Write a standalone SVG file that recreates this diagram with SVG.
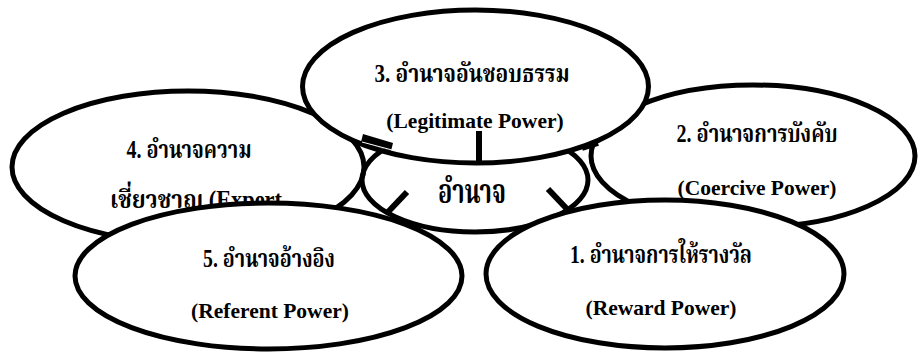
<svg xmlns="http://www.w3.org/2000/svg" width="918" height="352" viewBox="0 0 918 352">
<style>
.e{fill:#fff;stroke:#000;stroke-width:5}
.n{fill:none;stroke:#000;stroke-width:5}
.th{font-family:"Liberation Serif","Noto Serif Thai","Noto Sans Thai","Norasi","Loma",serif;font-weight:bold;font-size:25px;fill:#000;text-anchor:middle}
.en{font-family:"Liberation Serif","Times New Roman",serif;font-weight:bold;font-size:21.5px;fill:#000;text-anchor:middle}
.c{stroke:#000;stroke-width:6;fill:none}
</style>
<rect width="918" height="352" fill="#fff"/>
<g id="node4">
<ellipse class="e" cx="188" cy="167" rx="176" ry="76"/>
<text class="th" x="189" y="158" textLength="125" lengthAdjust="spacingAndGlyphs">4. อำนาจความ</text>
<text class="th" x="110" y="208" style="text-anchor:start" textLength="172" lengthAdjust="spacingAndGlyphs">เชี่ยวชาญ (Expert</text>
</g>
<g id="center">
<ellipse class="n" cx="475" cy="180" rx="113" ry="52"/>
<text class="th" x="472" y="203" style="font-size:33px" textLength="68" lengthAdjust="spacingAndGlyphs">อำนาจ</text>
</g>
<g id="node2">
<ellipse class="e" cx="753" cy="156" rx="162" ry="71"/>
<text class="th" x="757" y="142" textLength="161" lengthAdjust="spacingAndGlyphs">2. อำนาจการบังคับ</text>
<text class="en" x="757" y="195">(Coercive Power)</text>
</g>
<g id="node3">
<ellipse class="e" cx="475.5" cy="86.5" rx="173" ry="76.5"/>
<text class="th" x="472" y="82" textLength="195" lengthAdjust="spacingAndGlyphs">3. อำนาจอันชอบธรรม</text>
<text class="en" x="475" y="128">(Legitimate Power)</text>
</g>
<g id="node5">
<ellipse class="e" cx="268.5" cy="276" rx="193.5" ry="73"/>
<text class="th" x="269" y="267" textLength="132" lengthAdjust="spacingAndGlyphs">5. อำนาจอ้างอิง</text>
<text class="en" x="270" y="318">(Referent Power)</text>
</g>
<g id="node1">
<ellipse class="e" cx="665" cy="274" rx="179" ry="74"/>
<text class="th" x="661" y="263" textLength="182" lengthAdjust="spacingAndGlyphs">1. อำนาจการให้รางวัล</text>
<text class="en" x="661" y="315">(Reward Power)</text>
</g>
<g id="connectors">
<line class="c" x1="479" y1="131" x2="479" y2="163"/>
<polygon points="363,134 393,143 391,151 361,142" fill="#000"/>
<line x1="362" y1="142" x2="392" y2="150" stroke="#fff" stroke-width="1"/>
<line class="c" x1="582" y1="148" x2="598" y2="143"/>
<line class="c" x1="407" y1="192" x2="388" y2="212"/>
<line class="c" x1="548" y1="189" x2="567" y2="209"/>
</g>
</svg>
